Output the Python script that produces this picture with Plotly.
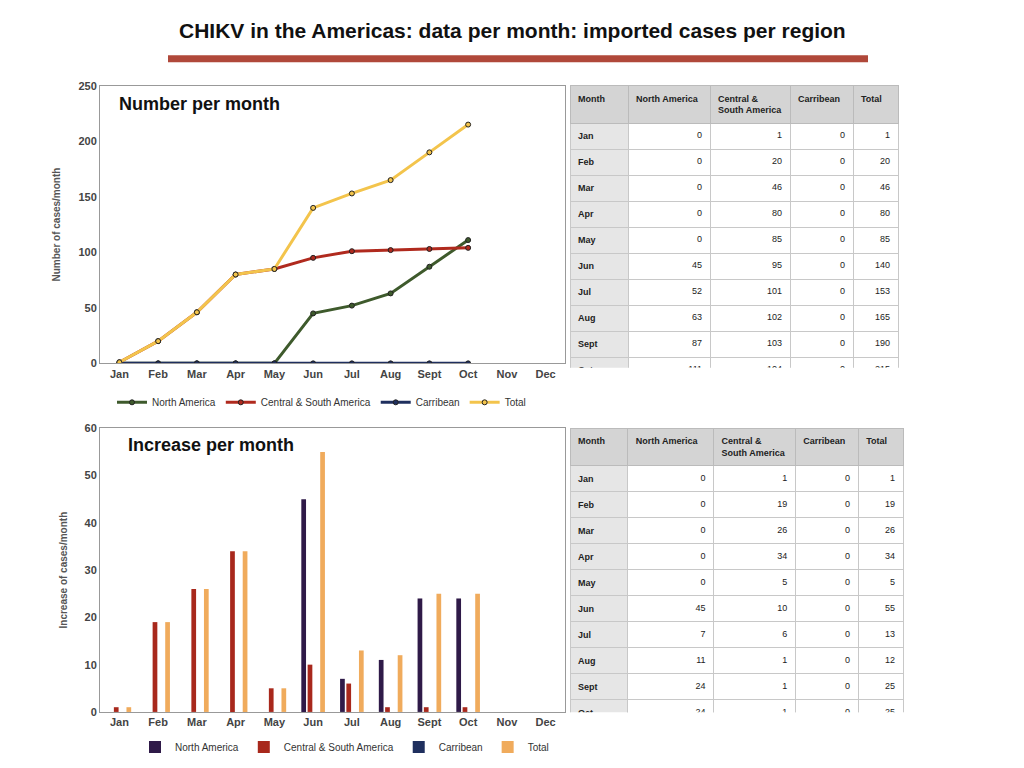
import plotly.graph_objects as go

months = ["Jan", "Feb", "Mar", "Apr", "May", "Jun", "Jul", "Aug", "Sept", "Oct", "Nov", "Dec"]
cum_na = [0, 0, 0, 0, 0, 45, 52, 63, 87, 111]
cum_csa = [1, 20, 46, 80, 85, 95, 101, 102, 103, 104]
cum_car = [0, 0, 0, 0, 0, 0, 0, 0, 0, 0]
cum_tot = [1, 20, 46, 80, 85, 140, 153, 165, 190, 215]
inc_na = [0, 0, 0, 0, 0, 45, 7, 11, 24, 24]
inc_csa = [1, 19, 26, 34, 5, 10, 6, 1, 1, 1]
inc_car = [0, 0, 0, 0, 0, 0, 0, 0, 0, 0]
inc_tot = [1, 19, 26, 34, 5, 55, 13, 12, 25, 25]

W, H = 1024, 768
# compensate page offset/scale seen in the screenshot
def px(x): return (x - 8) / W
def py(y): return 1 - ((y - 13.2) / 0.9856) / H

fig = go.Figure()
n = len(cum_tot)
line_specs = [("North America", cum_na, "#3e5a2c"), ("Central & South America", cum_csa, "#b02a1e"),
              ("Carribean", cum_car, "#1f2f5e"), ("Total", cum_tot, "#f3c44c")]
for name, vals, col in line_specs:
    fig.add_trace(go.Scatter(x=months[:n], y=vals, name=name, mode="lines+markers",
                             line=dict(color=col, width=3),
                             marker=dict(size=5, color=col, line=dict(color="#222", width=1)),
                             xaxis="x", yaxis="y", legend="legend"))
bar_specs = [("North America", inc_na, "#2f1a48"), ("Central & South America", inc_csa, "#a8281c"),
             ("Carribean", inc_car, "#1f2f5e"), ("Total", inc_tot, "#f0ab5c")]
for name, vals, col in bar_specs:
    fig.add_trace(go.Bar(x=months[:n], y=vals, name=name, marker=dict(color=col, line=dict(width=0)),
                         xaxis="x2", yaxis="y2", legend="legend2"))

def table_trace(vals_a, vals_b, vals_c, vals_d, dom_x, dom_y, widths):
    cols = ["<b>%s</b>" % m for m in months]
    cols = [cols,
            [str(v) for v in vals_a] + ["", ""],
            [str(v) for v in vals_b] + ["", ""],
            [str(v) for v in vals_c] + ["", ""],
            [str(v) for v in vals_d] + ["", ""]]
    return go.Table(domain=dict(x=dom_x, y=dom_y), columnwidth=widths,
                    header=dict(values=["<b>Month</b>", "<b>North America</b>", "<b>Central &<br>South America</b>",
                                        "<b>Carribean</b>", "<b>Total</b>"],
                                fill_color="#d4d4d4", line_color="#bbbbbb", align="left",
                                font=dict(size=9, color="#222", family="Arial"), height=26),
                    cells=dict(values=cols, fill_color=[["#e6e6e6"] * 12] + [["white"] * 12] * 4,
                               line_color="#c8c8c8", align=["left", "right", "right", "right", "right"],
                               font=dict(size=9, color="#222", family="Arial"), height=20))

fig.add_trace(table_trace(cum_na, cum_csa, cum_car, cum_tot, [px(570), px(898)], [py(368), py(85)], [58, 82, 80, 63, 45]))
fig.add_trace(table_trace(inc_na, inc_csa, inc_car, inc_tot, [px(570), px(903)], [py(713), py(428)], [58, 86, 82, 63, 45]))

axfont = dict(size=11, color="#444", family="Arial", weight="bold")
common_x = dict(categoryorder="array", categoryarray=months, range=[-0.5, 11.5], tickfont=axfont,
                showgrid=False, showline=True, linecolor="#999", mirror=True, ticks="")
common_y = dict(showgrid=False, showline=True, linecolor="#999", mirror=True, tickfont=axfont,
                ticks="", zeroline=False)
fig.update_layout(
    width=W, height=H, margin=dict(l=0, r=0, t=0, b=0), plot_bgcolor="white", paper_bgcolor="white",
    font=dict(family="Arial"), barmode="group", bargap=0.35, bargroupgap=0.25,
    xaxis=dict(domain=[px(100), px(565)], anchor="y", **common_x),
    yaxis=dict(domain=[py(363), py(85)], anchor="x", range=[0, 250], dtick=50,
               title=dict(text="Number of cases/month", font=dict(size=10, color="#555", weight="bold")), **common_y),
    xaxis2=dict(domain=[px(100), px(565)], anchor="y2", **common_x),
    yaxis2=dict(domain=[py(712), py(428)], anchor="x2", range=[0, 60], dtick=10,
                title=dict(text="Increase of cases/month", font=dict(size=10, color="#555", weight="bold")), **common_y),
    legend=dict(orientation="h", x=px(112), y=py(402), xanchor="left", yanchor="middle",
                font=dict(size=10, color="#333"), itemwidth=30, tracegroupgap=0),
    legend2=dict(orientation="h", x=px(135), y=py(747), xanchor="left", yanchor="middle",
                 font=dict(size=10, color="#333"), itemwidth=30, tracegroupgap=0),
    annotations=[
        dict(text="<b>CHIKV in the Americas: data per month: imported cases per region</b>", x=0.5 - 8 / W, y=py(30),
             xref="paper", yref="paper", yanchor="middle", showarrow=False, font=dict(size=21, color="#111")),
        dict(text="<b>Number per month</b>", x=px(117), y=py(103), xref="paper", yref="paper",
             xanchor="left", yanchor="middle", showarrow=False, font=dict(size=18, color="#111")),
        dict(text="<b>Increase per month</b>", x=px(126), y=py(445), xref="paper", yref="paper",
             xanchor="left", yanchor="middle", showarrow=False, font=dict(size=18, color="#111")),
    ],
    shapes=[dict(type="line", xref="paper", yref="paper", x0=px(168), x1=px(868), y0=py(58), y1=py(58),
                 line=dict(color="#b0483a", width=7))],
)
fig.write_html("out.html")
